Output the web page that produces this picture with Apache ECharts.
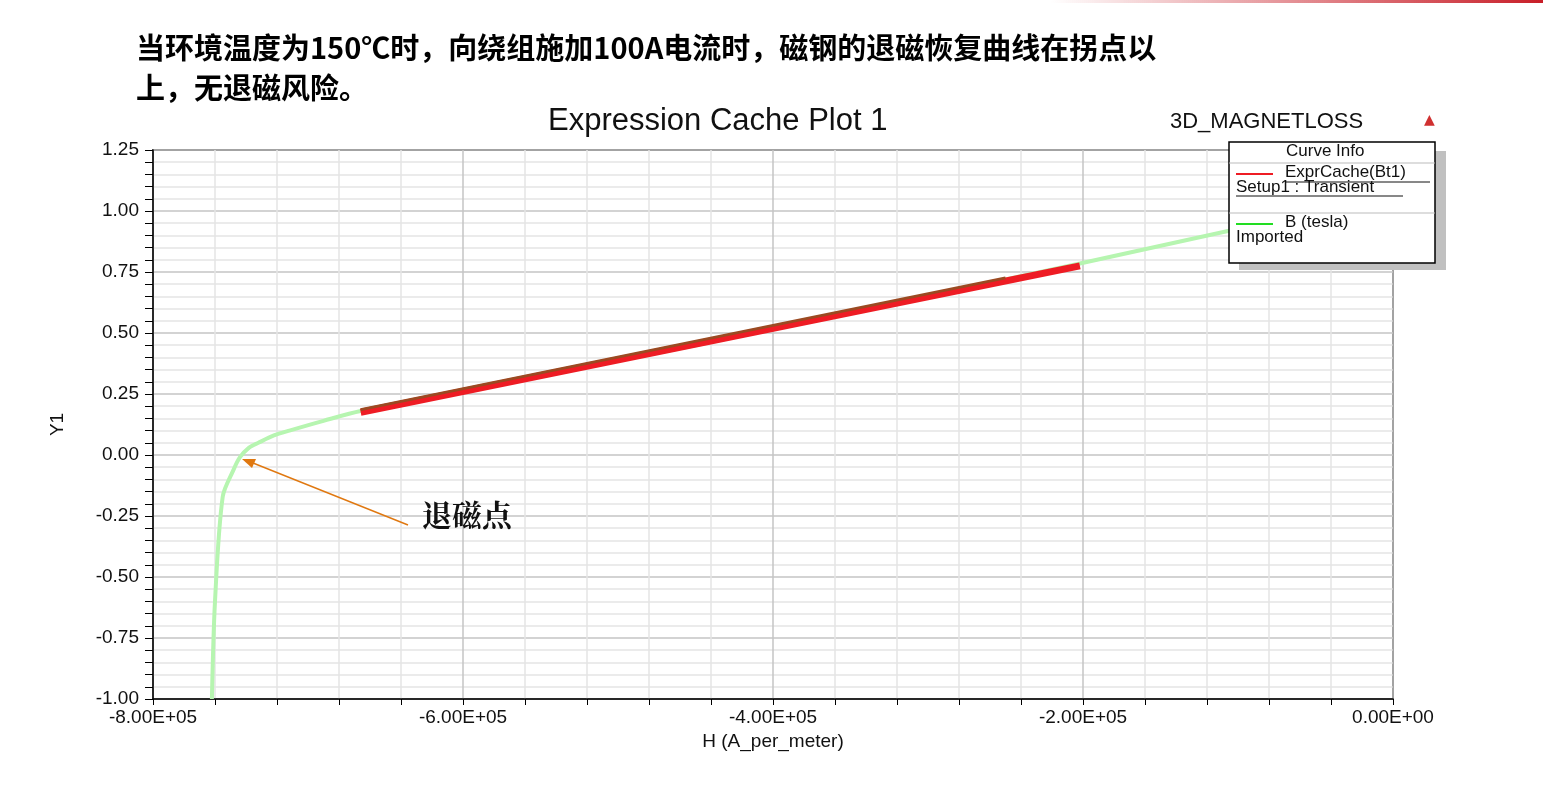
<!DOCTYPE html>
<html>
<head>
<meta charset="utf-8">
<script src="https://cdn.jsdelivr.net/npm/echarts@6/dist/echarts.min.js"></script>
<style>html,body{margin:0;padding:0;background:#fff}#main{width:1543px;height:789px}</style>
</head>
<body>
<div id="main"></div>
<script>
// 退磁曲线 (B vs H)
var greenH = [-762000, -760000, -755000, -748000, -744000, -738000, -732000, -722000, -712000, -690000, -666000, -450000, -202000, -105000, 0];
var greenB = [-1.00, -0.60, -0.17, -0.06, -0.01, 0.03, 0.05, 0.08, 0.10, 0.14, 0.18, 0.45, 0.785, 0.92, 1.06];
var redH = [-666000, -202000];
var redB = [0.175, 0.775];
var brownH = [-666000, -250000];
var brownB = [0.186, 0.726];

function pairs(xs, ys) { return xs.map(function (x, i) { return [x, ys[i]]; }); }

var gridColors = ['#c4c4c4', '#e4e4e4', '#e4e4e4', '#e4e4e4', '#e4e4e4'];
var lf = '17px "Liberation Sans"';

var myChart = echarts.init(document.getElementById('main'));
myChart.setOption({
    animation: false,
    grid: { left: 153, right: 150, top: 150, bottom: 90, show: true, borderColor: '#000', borderWidth: 1.5 },
    xAxis: {
        type: 'value', min: -800000, max: 0, interval: 40000,
        name: 'H (A_per_meter)', nameLocation: 'middle', nameGap: 28,
        nameTextStyle: { fontFamily: 'Liberation Sans', fontSize: 19, color: '#111' },
        axisLine: { onZero: false, lineStyle: { color: '#000', width: 1.5 } },
        axisTick: { length: 6, lineStyle: { color: '#000' } },
        splitLine: { lineStyle: { color: gridColors, width: 1.5 } },
        axisLabel: {
            fontFamily: 'Liberation Sans', fontSize: 19, color: '#111', margin: 9,
            formatter: function (v) {
                if (Math.round(v) % 200000 !== 0) return '';
                if (v === 0) return '0.00E+00';
                return (v / 100000).toFixed(2) + 'E+05';
            }
        }
    },
    yAxis: {
        type: 'value', min: -1, max: 1.25, interval: 0.05,
        name: 'Y1', nameLocation: 'middle', nameGap: 86, nameRotate: 90,
        nameTextStyle: { fontFamily: 'Liberation Sans', fontSize: 19, color: '#111' },
        axisLine: { onZero: false, lineStyle: { color: '#000', width: 1.5 } },
        axisTick: { length: 8, lineStyle: { color: '#000' } },
        splitLine: { lineStyle: { color: gridColors, width: 1.5 } },
        axisLabel: {
            fontFamily: 'Liberation Sans', fontSize: 19, color: '#111', margin: 14,
            formatter: function (v) {
                var k = Math.round(v * 100);
                if (k % 25 !== 0) return '';
                return (k / 100).toFixed(2);
            }
        }
    },
    series: [
        { type: 'line', data: pairs(greenH, greenB), showSymbol: false, smooth: 0.3,
          lineStyle: { color: '#b6f5b0', width: 4 }, z: 2 },
        { type: 'line', data: pairs(redH, redB), showSymbol: false,
          lineStyle: { color: '#ee1c24', width: 7 }, z: 3 },
        { type: 'line', data: pairs(brownH, brownB), showSymbol: false,
          lineStyle: { color: '#9b4a22', width: 3 }, z: 4 }
    ],
    graphic: [
        { type: 'rect', shape: { x: 1050, y: 0, width: 493, height: 3 },
          style: { fill: new echarts.graphic.LinearGradient(0, 0, 1, 0, [{ offset: 0, color: 'rgba(200,30,40,0)' }, { offset: 1, color: '#c81e28' }]) } },
        { type: 'text', left: 136, top: 28, style: { text: '当环境温度为150℃时，向绕组施加100A电流时，磁钢的退磁恢复曲线在拐点以\n上，无退磁风险。',
          font: 'bold 29px "Noto Sans CJK SC"', fill: '#000', lineHeight: 40 } },
        { type: 'text', left: 548, top: 106, style: { text: 'Expression Cache Plot 1', font: '31px "Liberation Sans"', fill: '#111' } },
        { type: 'text', left: 1170, top: 111, style: { text: '3D_MAGNETLOSS', font: '22px "Liberation Sans"', fill: '#111' } },
        { type: 'text', left: 1424, top: 113, style: { text: '▲', font: '14px "DejaVu Sans"', fill: '#d03030' } },
        { type: 'rect', z: 10, shape: { x: 1239, y: 151, width: 207, height: 119 }, style: { fill: '#c0c0c0' } },
        { type: 'rect', z: 11, shape: { x: 1229, y: 142, width: 206, height: 121 }, style: { fill: '#fff', stroke: '#000', lineWidth: 1.5 } },
        { type: 'line', z: 12, shape: { x1: 1229, y1: 163, x2: 1435, y2: 163 }, style: { stroke: '#bbb' } },
        { type: 'line', z: 12, shape: { x1: 1229, y1: 213, x2: 1435, y2: 213 }, style: { stroke: '#bbb' } },
        { type: 'text', z: 12, left: 1286, top: 143, style: { text: 'Curve Info', font: lf, fill: '#111' } },
        { type: 'line', z: 12, shape: { x1: 1236, y1: 174, x2: 1273, y2: 174 }, style: { stroke: '#ee1c24', lineWidth: 2 } },
        { type: 'text', z: 12, left: 1285, top: 164, style: { text: 'ExprCache(Bt1)', font: lf, fill: '#111' } },
        { type: 'text', z: 12, left: 1236, top: 179, style: { text: 'Setup1 : Transient', font: lf, fill: '#111' } },
        { type: 'line', z: 12, shape: { x1: 1285, y1: 182, x2: 1430, y2: 182 }, style: { stroke: '#111' } },
        { type: 'line', z: 12, shape: { x1: 1236, y1: 196, x2: 1403, y2: 196 }, style: { stroke: '#111' } },
        { type: 'line', z: 12, shape: { x1: 1236, y1: 224, x2: 1273, y2: 224 }, style: { stroke: '#22dd22', lineWidth: 2 } },
        { type: 'text', z: 12, left: 1285, top: 214, style: { text: 'B (tesla)', font: lf, fill: '#111' } },
        { type: 'text', z: 12, left: 1236, top: 229, style: { text: 'Imported', font: lf, fill: '#111' } },
        { type: 'line', z: 12, shape: { x1: 408, y1: 525, x2: 248, y2: 461 }, style: { stroke: '#e07810', lineWidth: 1.5 } },
        { type: 'polygon', z: 12, shape: { points: [[242, 459], [256, 459], [252, 468]] }, style: { fill: '#e07810' } },
        { type: 'text', z: 12, left: 422, top: 500, style: { text: '退磁点', font: 'bold 30px "Noto Serif CJK SC", "Noto Sans CJK SC"', fill: '#111' } }
    ]
});
</script>
</body>
</html>
